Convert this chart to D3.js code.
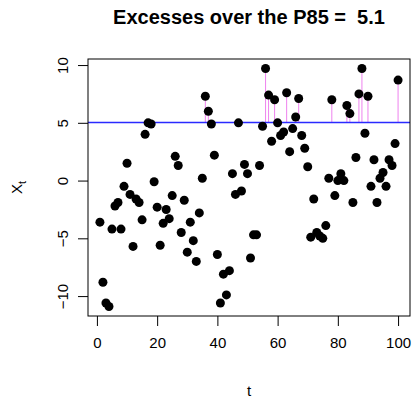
<!DOCTYPE html>
<html>
<head>
<meta charset="utf-8">
<script src="https://cdn.jsdelivr.net/npm/d3@7"></script>
<style>
    body { margin: 0; background: #fff; }
    svg { display: block; font-family: "Liberation Sans", Arial, sans-serif; }
</style>
</head>
<body>
<svg id="chart"></svg>
<script>
// series, one value per t = 1..100
const values = [
    -3.6, -8.8, -10.6, -10.9, -4.2, -2.2, -1.9, -4.2, -0.5, 1.5,
    -1.2, -5.7, -1.6, -1.9, -3.4, 4.0, 5.0, 4.9, -0.1, -2.3,
    -5.6, -3.7, -2.5, -3.3, -1.3, 2.1, 1.3, -4.5, -1.7, -6.2,
    -3.6, -5.2, -7.0, -2.8, 0.2, 7.3, 6.0, 4.9, 2.2, -6.4,
    -10.6, -8.1, -9.9, -7.8, 0.6, -1.2, 5.0, -0.9, 1.4, 0.6,
    -6.7, -4.7, -4.7, 1.3, 4.7, 9.7, 7.4, 3.4, 7.0, 5.0,
    3.9, 4.2, 7.6, 2.5, 4.5, 5.5, 7.1, 3.9, 2.8, 1.2,
    -4.9, -1.6, -4.5, -4.8, -5.0, -3.9, 0.2, 7.0, -1.3, 0.0,
    0.6, 0.0, 6.5, 5.8, -1.9, 2.0, 7.5, 9.7, 4.1, 7.3,
    -0.5, 1.8, -1.9, 0.2, 0.7, -0.5, 1.8, 1.3, 3.2, 8.7
];
const threshold = 5.1;
const xTicks = [0, 20, 40, 60, 80, 100];
const yTicks = [-10, -5, 0, 5, 10];

const width = 414, height = 398;
const box = { left: 88, right: 410, top: 59, bottom: 316 };

const data = values.map((v, i) => ({ t: i + 1, v }));

const svg = d3.select('#chart')
    .attr('width', width)
    .attr('height', height);

// R style 4% padding on both axes
const pad = ([a, b]) => [a - (b - a) * 0.04, b + (b - a) * 0.04];

const x = d3.scaleLinear()
    .domain(pad(d3.extent(data, d => d.t)))
    .range([box.left, box.right]);

const y = d3.scaleLinear()
    .domain(pad(d3.extent(values)))
    .range([box.bottom, box.top]);

const yThr = Math.round(y(threshold)) + 0.5;

// exceedance sticks
svg.append('g')
    .selectAll('line')
    .data(data.filter(d => d.v > threshold))
    .join('line')
        .attr('x1', d => x(d.t))
        .attr('x2', d => x(d.t))
        .attr('y1', yThr)
        .attr('y2', d => y(d.v))
        .attr('stroke', '#ee82ee')
        .attr('stroke-width', 1);

svg.append('line')
    .attr('x1', box.left)
    .attr('x2', box.right)
    .attr('y1', yThr)
    .attr('y2', yThr)
    .attr('stroke', '#2a2aff')
    .attr('stroke-width', 1.3);

svg.append('g')
    .selectAll('circle')
    .data(data)
    .join('circle')
        .attr('cx', d => x(d.t))
        .attr('cy', d => y(d.v))
        .attr('r', 4.5)
        .attr('fill', '#000');

svg.append('rect')
    .attr('x', box.left)
    .attr('y', box.top)
    .attr('width', box.right - box.left)
    .attr('height', box.bottom - box.top)
    .attr('fill', 'none')
    .attr('stroke', '#000');

// axes
const xAxis = svg.append('g')
    .attr('transform', `translate(0, ${box.bottom})`)
    .call(d3.axisBottom(x).tickValues(xTicks).tickSize(10).tickPadding(5).tickSizeOuter(0));

const yAxis = svg.append('g')
    .attr('transform', `translate(${box.left}, 0)`)
    .call(d3.axisLeft(y).tickValues(yTicks).tickSize(10).tickSizeOuter(0));

[xAxis, yAxis].forEach(g => {
    g.select('.domain').remove();
    g.selectAll('text')
        .attr('font-family', '"Liberation Sans", Arial, sans-serif')
        .attr('font-size', 15)
        .attr('fill', '#000');
});
xAxis.selectAll('text').attr('dy', '1.1em');

// R keeps y tick labels parallel to the axis
yAxis.selectAll('.tick text')
    .attr('x', null)
    .attr('dy', null)
    .attr('text-anchor', 'middle')
    .attr('transform', 'translate(-20, 0) rotate(-90)');

svg.append('text')
    .attr('x', (box.left + box.right) / 2)
    .attr('y', 24)
    .attr('text-anchor', 'middle')
    .attr('font-size', 20)
    .attr('font-weight', 'bold')
    .style('white-space', 'pre')
    .text('Excesses over the P85 =  5.1');

svg.append('text')
    .attr('x', (box.left + box.right) / 2)
    .attr('y', 396)
    .attr('text-anchor', 'middle')
    .attr('font-size', 15)
    .text('t');

const yLab = svg.append('text')
    .attr('transform', `translate(22, ${(box.top + box.bottom) / 2}) rotate(-90)`)
    .attr('text-anchor', 'middle')
    .attr('font-size', 15);
yLab.append('tspan').text('X');
yLab.append('tspan')
    .attr('font-size', 11)
    .attr('dy', 4)
    .text('t');
</script>
</body>
</html>
